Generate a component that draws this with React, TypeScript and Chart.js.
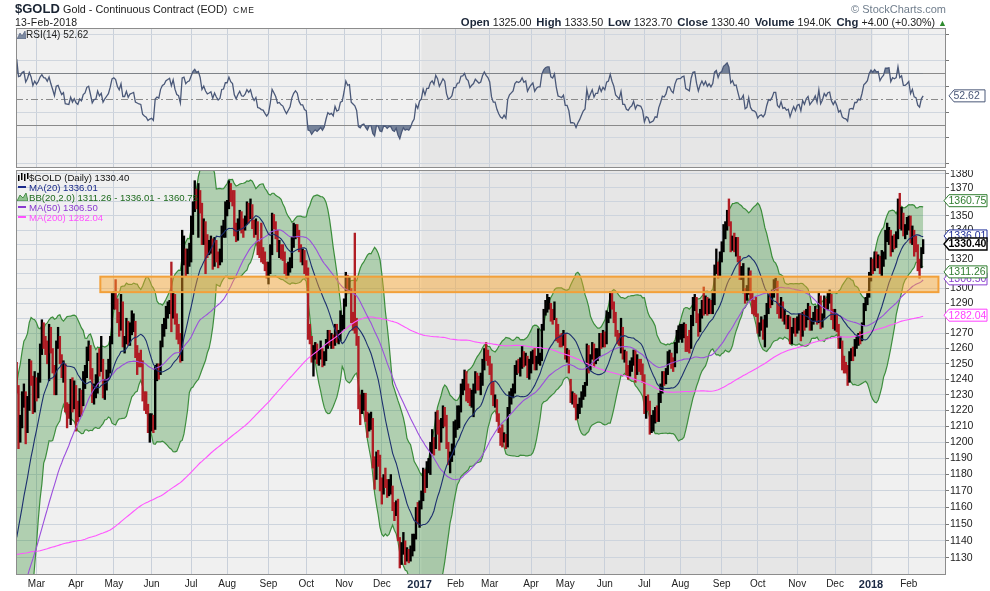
import React, { useEffect, useRef } from "react";
import { Chart, registerables } from "chart.js";
Chart.register(...registerables);

const FONT = '"Liberation Sans", Arial, Helvetica, sans-serif';

// ---- x axis: trading-day index of first session of each month, and labels
const monthStarts = [11, 33, 54, 75, 97, 117, 140, 161, 182, 203, 224, 244, 263, 286, 305, 327, 349, 369, 392, 412, 434, 455, 475, 496];
const monthLabels = ["Mar", "Apr", "May", "Jun", "Jul", "Aug", "Sep", "Oct", "Nov", "Dec", "2017", "Feb", "Mar", "Apr", "May", "Jun", "Jul", "Aug", "Sep", "Oct", "Nov", "Dec", "2018", "Feb"];
const yearShadeStart = 225;
const yearShadeEnd = 476;

// ---- price axis ticks
const priceTicks = [1130, 1140, 1150, 1160, 1170, 1180, 1190, 1200, 1210, 1220, 1230, 1240, 1250, 1260, 1270, 1280, 1290, 1300, 1310, 1320, 1330, 1340, 1350, 1360, 1370, 1380];
const rsiGridLevels = [0, 10, 20, 30, 40, 50, 60, 70, 80, 90, 100];
const rsiLabelLevels = [10, 30, 50, 70, 90];

// ---- sessions before the visible window (feed the moving averages / RSI)
const priorCloses = [
  1211, 1182,
  1178, 1186, 1193, 1192, 1184, 1189, 1183, 1192, 1217, 1219, 1225, 1227, 1207, 1209, 1205, 1204, 1187, 1187, 1187, 1190,
  1195, 1194, 1185, 1176, 1172, 1174, 1177, 1184, 1180, 1181, 1186, 1180, 1177, 1202, 1201, 1185, 1177, 1176, 1172, 1174, 1178, 1172,
  1169, 1165, 1173, 1155, 1162, 1161, 1162, 1157, 1156, 1150, 1145, 1131, 1107, 1102, 1093, 1091, 1085, 1096, 1095, 1096, 1088, 1094,
  1086, 1085, 1086, 1091, 1094, 1104, 1107, 1123, 1115, 1113, 1118, 1117, 1128, 1153, 1160, 1153, 1139, 1124, 1124, 1134, 1132,
  1139, 1134, 1124, 1121, 1121, 1121, 1108, 1103, 1108, 1102, 1118, 1117, 1137, 1133, 1124, 1131, 1153, 1145, 1132, 1127, 1115,
  1113, 1136, 1137, 1146, 1146, 1143, 1156, 1164, 1166, 1188, 1187, 1182, 1172, 1175, 1167, 1165, 1162, 1163, 1166, 1176, 1148, 1142,
  1135, 1115, 1104, 1105, 1088, 1092, 1090, 1087, 1083, 1081, 1088, 1070, 1068, 1077, 1076, 1067, 1074, 1071, 1056, 1065,
  1053, 1053, 1062, 1086, 1075, 1076, 1076, 1071, 1075, 1063, 1062, 1075, 1049, 1066, 1080, 1074, 1069, 1075, 1069, 1077, 1060, 1060,
  1075, 1078, 1091, 1108, 1097, 1096, 1086, 1086, 1073, 1090, 1089, 1106, 1097, 1097, 1107, 1119, 1114, 1115, 1117,
  1128, 1128, 1141, 1157, 1158, 1199, 1198, 1195, 1247,
];

// ---- visible daily sessions (12-Feb-2016 .. 13-Feb-2018)
const closes = [
  1239, 1208, 1211, 1226, 1230, 1210, 1223, 1249, 1240, 1221, 1238,
  1231, 1241, 1259, 1270, 1264, 1263, 1257, 1272, 1259, 1247, 1233, 1262, 1265, 1254, 1244, 1249, 1221, 1220, 1219, 1236, 1224, 1232,
  1222, 1218, 1230, 1226, 1240, 1244, 1258, 1261, 1246, 1227, 1234, 1235, 1254, 1244, 1250, 1231, 1238, 1244, 1250, 1266, 1291,
  1295, 1292, 1280, 1274, 1290, 1264, 1264, 1277, 1264, 1272, 1274, 1276, 1256, 1254, 1252, 1251, 1229, 1224, 1221, 1212, 1214,
  1215, 1210, 1243, 1247, 1245, 1263, 1272, 1275, 1284, 1287, 1290, 1280, 1294, 1280, 1271, 1269, 1256, 1322, 1325, 1312, 1319, 1322,
  1339, 1358, 1367, 1362, 1366, 1356, 1333, 1343, 1333, 1327, 1329, 1332, 1319, 1331, 1323, 1317, 1320, 1340, 1341, 1357,
  1357, 1373, 1366, 1363, 1344, 1336, 1345, 1352, 1344, 1343, 1347, 1356, 1352, 1357, 1346, 1340, 1345, 1327, 1326, 1323, 1322, 1316, 1311,
  1314, 1327, 1350, 1345, 1339, 1328, 1329, 1325, 1323, 1316, 1310, 1314, 1318, 1330, 1337, 1341, 1338, 1327, 1322, 1322, 1315,
  1313, 1269, 1267, 1254, 1257, 1259, 1254, 1256, 1258, 1251, 1254, 1262, 1269, 1266, 1267, 1263, 1273, 1266, 1267, 1276, 1277,
  1289, 1308, 1303, 1304, 1280, 1277, 1274, 1266, 1225, 1221, 1225, 1226, 1216, 1208, 1213, 1213, 1188, 1178, 1191, 1189, 1173,
  1170, 1177, 1176, 1170, 1172, 1172, 1162, 1159, 1162, 1142, 1127, 1134, 1139, 1132, 1133, 1130, 1133, 1138, 1141, 1158, 1152,
  1162, 1165, 1181, 1173, 1185, 1185, 1196, 1200, 1196, 1216, 1212, 1202, 1210, 1219, 1216, 1198, 1189, 1191, 1195, 1210,
  1210, 1219, 1220, 1235, 1236, 1242, 1236, 1234, 1226, 1230, 1233, 1241, 1239, 1237, 1239, 1250, 1258, 1255, 1253,
  1249, 1233, 1226, 1226, 1216, 1209, 1203, 1201, 1204, 1199, 1220, 1227, 1230, 1233, 1245, 1249, 1248, 1250, 1256, 1252, 1254, 1244, 1249,
  1253, 1256, 1248, 1252, 1254, 1254, 1274, 1284, 1289, 1291, 1291, 1283, 1282, 1289, 1277, 1267, 1266, 1265, 1268,
  1256, 1256, 1249, 1228, 1228, 1227, 1218, 1222, 1225, 1229, 1233, 1235, 1259, 1247, 1254, 1261, 1251, 1257, 1257, 1268, 1262, 1269,
  1266, 1280, 1282, 1297, 1289, 1283, 1271, 1268, 1265, 1277, 1256, 1256, 1247, 1245, 1249, 1251, 1257, 1245, 1250, 1249, 1248, 1242,
  1220, 1226, 1224, 1213, 1214, 1215, 1219, 1218, 1228, 1234, 1242, 1241, 1245, 1255, 1255, 1251, 1249, 1261, 1269, 1270,
  1270, 1273, 1274, 1264, 1263, 1262, 1279, 1290, 1291, 1281, 1273, 1282, 1289, 1285, 1291, 1286, 1290, 1287, 1292, 1314, 1318, 1311, 1322,
  1325, 1339, 1344, 1350, 1346, 1329, 1334, 1328, 1329, 1320, 1310, 1311, 1316, 1295, 1297, 1311, 1294, 1288, 1287, 1284,
  1272, 1275, 1276, 1272, 1275, 1285, 1293, 1292, 1296, 1303, 1303, 1286, 1283, 1290, 1280, 1281, 1277, 1278, 1266, 1272, 1277, 1271,
  1277, 1278, 1269, 1281, 1276, 1283, 1286, 1275, 1278, 1281, 1286, 1278, 1296, 1275, 1281, 1292, 1288, 1294, 1295, 1282, 1276,
  1281, 1274, 1262, 1264, 1251, 1248, 1247, 1242, 1256, 1257, 1256, 1264, 1264, 1268, 1267, 1275, 1288, 1291, 1295, 1309,
  1317, 1315, 1321, 1319, 1320, 1312, 1318, 1322, 1337, 1337, 1338, 1326, 1333, 1332, 1334, 1358, 1347, 1351, 1340, 1340, 1343,
  1347, 1333, 1340, 1330, 1329, 1318, 1315, 1326, 1330.4,
];

const highs = [
  1251, 1236, 1217, 1232, 1237, 1232, 1229, 1253, 1252, 1242, 1245,
  1241, 1244, 1263, 1279, 1277, 1268, 1265, 1276, 1274, 1260, 1249, 1265, 1274, 1268, 1256, 1252, 1250, 1225, 1224, 1240, 1241, 1239,
  1236, 1226, 1234, 1233, 1245, 1249, 1261, 1265, 1262, 1247, 1237, 1243, 1257, 1260, 1268, 1253, 1240, 1246, 1253, 1268, 1297,
  1298, 1306, 1293, 1284, 1296, 1291, 1268, 1280, 1278, 1277, 1285, 1283, 1278, 1262, 1257, 1259, 1252, 1232, 1232, 1224, 1218,
  1218, 1217, 1249, 1250, 1250, 1265, 1276, 1280, 1288, 1291, 1292, 1318, 1298, 1296, 1283, 1276, 1270, 1340, 1336, 1327, 1327, 1331,
  1350, 1360, 1375, 1369, 1373, 1368, 1359, 1348, 1346, 1337, 1333, 1336, 1334, 1335, 1333, 1325, 1327, 1343, 1347, 1360,
  1361, 1375, 1373, 1368, 1368, 1345, 1348, 1354, 1353, 1348, 1350, 1360, 1359, 1362, 1358, 1347, 1348, 1346, 1332, 1345, 1328, 1325, 1318,
  1318, 1330, 1352, 1351, 1346, 1340, 1333, 1330, 1330, 1325, 1317, 1318, 1321, 1335, 1345, 1344, 1344, 1340, 1330, 1327, 1326,
  1319, 1314, 1276, 1268, 1262, 1264, 1263, 1259, 1265, 1260, 1258, 1266, 1272, 1272, 1270, 1269, 1276, 1276, 1272, 1285, 1282,
  1293, 1311, 1309, 1308, 1300, 1284, 1338, 1280, 1268, 1230, 1233, 1231, 1231, 1219, 1218, 1219, 1215, 1191, 1194, 1195, 1192,
  1178, 1180, 1184, 1177, 1177, 1180, 1173, 1163, 1164, 1165, 1142, 1139, 1145, 1140, 1136, 1135, 1137, 1144, 1144, 1160, 1163,
  1164, 1170, 1184, 1183, 1188, 1190, 1200, 1208, 1203, 1219, 1220, 1214, 1215, 1223, 1222, 1217, 1200, 1194, 1199, 1213,
  1214, 1223, 1223, 1237, 1240, 1246, 1245, 1237, 1234, 1233, 1237, 1245, 1244, 1242, 1244, 1253, 1260, 1264, 1259,
  1255, 1250, 1238, 1230, 1227, 1218, 1209, 1211, 1206, 1205, 1222, 1232, 1234, 1237, 1249, 1252, 1253, 1254, 1262, 1258, 1257, 1255, 1253,
  1258, 1259, 1260, 1255, 1273, 1257, 1276, 1286, 1292, 1296, 1294, 1290, 1286, 1291, 1280, 1276, 1269, 1270, 1272,
  1270, 1260, 1259, 1240, 1232, 1231, 1230, 1224, 1228, 1232, 1236, 1238, 1263, 1262, 1256, 1264, 1263, 1260, 1260, 1270, 1270, 1272,
  1271, 1285, 1284, 1298, 1297, 1291, 1284, 1272, 1270, 1280, 1274, 1259, 1258, 1249, 1252, 1254, 1259, 1259, 1256, 1253, 1253, 1250,
  1243, 1229, 1230, 1226, 1217, 1220, 1222, 1223, 1231, 1237, 1245, 1245, 1247, 1258, 1259, 1257, 1254, 1264, 1272, 1275,
  1276, 1276, 1277, 1276, 1268, 1272, 1282, 1294, 1296, 1294, 1283, 1286, 1292, 1301, 1295, 1294, 1293, 1292, 1297, 1316, 1327, 1318, 1325,
  1332, 1344, 1346, 1354, 1362, 1346, 1336, 1338, 1335, 1335, 1322, 1315, 1317, 1300, 1302, 1314, 1312, 1297, 1292, 1294,
  1283, 1277, 1281, 1279, 1282, 1290, 1296, 1297, 1299, 1306, 1307, 1305, 1290, 1294, 1291, 1286, 1282, 1282, 1281, 1274, 1280, 1280,
  1281, 1283, 1283, 1284, 1285, 1286, 1290, 1288, 1280, 1284, 1288, 1286, 1297, 1295, 1283, 1295, 1293, 1297, 1299, 1296, 1286,
  1286, 1282, 1276, 1268, 1265, 1255, 1251, 1249, 1258, 1260, 1261, 1266, 1268, 1270, 1271, 1277, 1290, 1294, 1298, 1311,
  1321, 1320, 1325, 1325, 1323, 1322, 1326, 1325, 1340, 1345, 1342, 1340, 1336, 1337, 1339, 1362, 1366, 1356, 1352, 1344, 1349,
  1350, 1350, 1343, 1340, 1336, 1330, 1320, 1328, 1333.5,
];

const lows = [
  1231, 1196, 1200, 1209, 1222, 1199, 1206, 1220, 1236, 1218, 1219,
  1226, 1228, 1238, 1256, 1260, 1256, 1250, 1239, 1257, 1244, 1230, 1230, 1260, 1250, 1241, 1238, 1219, 1209, 1215, 1211, 1219, 1221,
  1207, 1213, 1216, 1217, 1223, 1234, 1241, 1252, 1240, 1225, 1224, 1228, 1231, 1242, 1245, 1228, 1227, 1233, 1240, 1244, 1263,
  1286, 1286, 1277, 1268, 1272, 1261, 1257, 1263, 1262, 1262, 1269, 1271, 1254, 1243, 1248, 1248, 1226, 1220, 1218, 1206, 1200,
  1207, 1206, 1208, 1239, 1240, 1243, 1261, 1268, 1273, 1280, 1283, 1271, 1280, 1276, 1266, 1263, 1251, 1252, 1316, 1308, 1310, 1315,
  1318, 1337, 1353, 1355, 1335, 1352, 1330, 1330, 1310, 1321, 1323, 1324, 1313, 1315, 1318, 1314, 1316, 1318, 1335, 1335,
  1350, 1355, 1360, 1357, 1336, 1332, 1333, 1340, 1338, 1335, 1340, 1344, 1345, 1348, 1341, 1335, 1337, 1323, 1321, 1318, 1317, 1312, 1307,
  1303, 1310, 1323, 1341, 1334, 1325, 1321, 1320, 1319, 1310, 1307, 1308, 1311, 1314, 1328, 1334, 1335, 1325, 1318, 1316, 1310,
  1307, 1266, 1263, 1251, 1242, 1253, 1250, 1249, 1253, 1248, 1249, 1252, 1260, 1262, 1260, 1260, 1262, 1264, 1263, 1265, 1272,
  1273, 1288, 1297, 1297, 1277, 1272, 1270, 1262, 1221, 1211, 1218, 1220, 1213, 1203, 1207, 1208, 1184, 1171, 1177, 1185, 1170,
  1162, 1168, 1172, 1166, 1167, 1168, 1158, 1152, 1155, 1140, 1124, 1126, 1132, 1126, 1128, 1127, 1128, 1131, 1134, 1141, 1150,
  1148, 1159, 1164, 1169, 1172, 1181, 1180, 1193, 1192, 1196, 1205, 1195, 1200, 1209, 1210, 1196, 1186, 1181, 1188, 1192,
  1203, 1208, 1209, 1219, 1230, 1233, 1226, 1225, 1223, 1222, 1216, 1231, 1233, 1233, 1230, 1236, 1246, 1252, 1249,
  1243, 1230, 1223, 1222, 1213, 1206, 1198, 1197, 1200, 1196, 1197, 1218, 1224, 1228, 1231, 1243, 1244, 1242, 1247, 1248, 1249, 1241, 1240,
  1244, 1250, 1246, 1246, 1250, 1249, 1252, 1272, 1282, 1284, 1286, 1278, 1276, 1279, 1265, 1264, 1261, 1261, 1262,
  1253, 1251, 1244, 1225, 1224, 1222, 1214, 1215, 1218, 1222, 1227, 1229, 1236, 1244, 1246, 1253, 1248, 1250, 1252, 1255, 1260, 1261,
  1261, 1263, 1277, 1280, 1286, 1277, 1268, 1263, 1262, 1257, 1253, 1251, 1243, 1240, 1242, 1245, 1249, 1238, 1243, 1245, 1243, 1238,
  1218, 1215, 1220, 1205, 1206, 1207, 1212, 1213, 1213, 1225, 1231, 1236, 1237, 1243, 1250, 1247, 1245, 1248, 1257, 1264,
  1266, 1264, 1267, 1258, 1258, 1257, 1260, 1275, 1285, 1277, 1268, 1271, 1280, 1282, 1283, 1282, 1283, 1283, 1283, 1289, 1310, 1307, 1308,
  1318, 1325, 1334, 1340, 1343, 1325, 1326, 1325, 1322, 1318, 1306, 1306, 1297, 1290, 1292, 1296, 1292, 1283, 1282, 1281,
  1270, 1268, 1272, 1266, 1261, 1274, 1283, 1287, 1289, 1294, 1299, 1283, 1280, 1280, 1278, 1276, 1273, 1273, 1263, 1263, 1270, 1268,
  1270, 1272, 1265, 1268, 1272, 1274, 1279, 1272, 1272, 1276, 1278, 1276, 1277, 1273, 1274, 1280, 1286, 1286, 1290, 1279, 1273,
  1272, 1271, 1260, 1260, 1246, 1244, 1244, 1236, 1238, 1252, 1252, 1255, 1260, 1262, 1263, 1265, 1275, 1285, 1289, 1294,
  1305, 1310, 1312, 1314, 1314, 1310, 1308, 1315, 1320, 1332, 1330, 1322, 1325, 1327, 1328, 1334, 1341, 1340, 1336, 1334, 1337,
  1340, 1331, 1330, 1322, 1325, 1312, 1307, 1314, 1323.7,
];

// ---- support/resistance zone (price range, session-index span)
const zoneLow = 1297.5;
const zoneHigh = 1308;
const zoneFrom = 46.5;
const zoneTo = 512.5;

// ---- right-edge value tags
const tagValues = [1360.75, 1282.04, 1306.5, 1311.26, 1336.01, 1330.4];
const tagTexts = ["1360.75", "1282.04", "1306.50", "1311.26", "1336.01", "1330.40"];
const tagColors = ["#2f7d2f", "#ff40ff", "#8a40d0", "#2f7d2f", "#1f2f9a", "#000000"];
const tagBold = [false, false, false, false, false, true];
const rsiTagValue = 52.62;
const rsiTagText = "52.62";

// ---- header / legend texts
const quoteLabels = ["Open", "High", "Low", "Close", "Volume", "Chg"];
const quoteValues = ["1325.00", "1333.50", "1323.70", "1330.40", "194.0K", "+4.00 (+0.30%)"];
const legendTexts = ["$GOLD (Daily) 1330.40", "MA(20) 1336.01", "BB(20,2.0) 1311.26 - 1336.01 - 1360.75", "MA(50) 1306.50", "MA(200) 1282.04"];
const legendColors = ["#111111", "#1a2a8a", "#1e6a1e", "#8a3ad0", "#ff50ff"];

const X_MIN = -0.39;
const X_MAX = 516.7;

function computeIndicators() {
  const all = [...priorCloses, ...closes];
  const W = priorCloses.length;
  const ma = (n: number) =>
    closes.map((_, i) => {
      let s = 0;
      for (let k = W + i - n + 1; k <= W + i; k++) s += all[k];
      return s / n;
    });
  const ma20 = ma(20);
  const ma50 = ma(50);
  const ma200 = ma(200);
  const bbU: number[] = [];
  const bbL: number[] = [];
  closes.forEach((_, i) => {
    const m = ma20[i];
    let v = 0;
    for (let k = W + i - 19; k <= W + i; k++) v += (all[k] - m) ** 2;
    const sd = Math.sqrt(v / 20);
    bbU.push(m + 2 * sd);
    bbL.push(m - 2 * sd);
  });
  const rsiAll: number[] = new Array(all.length).fill(50);
  let ag = 0;
  let al = 0;
  for (let k = 1; k <= 14; k++) {
    const d = all[k] - all[k - 1];
    if (d > 0) ag += d;
    else al -= d;
  }
  ag /= 14;
  al /= 14;
  rsiAll[14] = 100 - 100 / (1 + ag / al);
  for (let k = 15; k < all.length; k++) {
    const d = all[k] - all[k - 1];
    ag = (ag * 13 + Math.max(d, 0)) / 14;
    al = (al * 13 + Math.max(-d, 0)) / 14;
    rsiAll[k] = al === 0 ? 100 : 100 - 100 / (1 + ag / al);
  }
  const rsi = closes.map((_, i) => rsiAll[W + i]);
  const prevOf = (i: number) => all[W + i - 1];
  return { ma20, ma50, ma200, bbU, bbL, rsi, prevOf };
}

const bgPlugin = {
  id: "panelBg",
  beforeDraw(chart: any) {
    const { ctx, chartArea: a, scales } = chart;
    const x = scales.x;
    ctx.save();
    ctx.fillStyle = "#f0f0f0";
    ctx.fillRect(a.left, a.top, a.right - a.left, a.bottom - a.top);
    const x1 = x.getPixelForValue(yearShadeStart);
    const x2 = x.getPixelForValue(yearShadeEnd);
    ctx.fillStyle = "#e6e6e6";
    ctx.fillRect(x1, a.top, x2 - x1, a.bottom - a.top);
    ctx.restore();
  },
  afterDraw(chart: any) {
    const { ctx, chartArea: a } = chart;
    ctx.save();
    ctx.strokeStyle = "#8c8c8c";
    ctx.lineWidth = 1;
    ctx.strokeRect(Math.round(a.left) + 0.5, Math.round(a.top) + 0.5, Math.round(a.right - a.left) - 1, Math.round(a.bottom - a.top) - 1);
    ctx.restore();
  },
};

function drawTag(ctx: any, tip: number, y: number, text: string, color: string, bold: boolean, w: number) {
  ctx.save();
  ctx.beginPath();
  ctx.moveTo(tip, y);
  ctx.lineTo(tip + 5, y - 6);
  ctx.lineTo(tip + w, y - 6);
  ctx.lineTo(tip + w, y + 6);
  ctx.lineTo(tip + 5, y + 6);
  ctx.closePath();
  ctx.fillStyle = "#ffffff";
  ctx.fill();
  ctx.strokeStyle = color;
  ctx.lineWidth = bold ? 1.4 : 1;
  ctx.stroke();
  ctx.fillStyle = color;
  ctx.font = `${bold ? "bold " : ""}10.5px ${FONT}`;
  ctx.textBaseline = "middle";
  ctx.textAlign = "left";
  ctx.fillText(text, tip + 4.5, y + 0.5);
  ctx.restore();
}

const priceOverlay = {
  id: "priceOverlay",
  afterDatasetsDraw(chart: any) {
    const { ctx, scales } = chart;
    const x1 = scales.x.getPixelForValue(zoneFrom);
    const x2 = scales.x.getPixelForValue(zoneTo);
    const y1 = scales.y.getPixelForValue(zoneHigh);
    const y2 = scales.y.getPixelForValue(zoneLow);
    ctx.save();
    ctx.fillStyle = "rgba(250,165,40,0.45)";
    ctx.fillRect(x1, y1, x2 - x1, y2 - y1);
    ctx.strokeStyle = "#f2a03a";
    ctx.lineWidth = 2;
    ctx.strokeRect(x1, y1, x2 - x1, y2 - y1);
    ctx.restore();
  },
  afterDraw(chart: any) {
    const { ctx, scales, chartArea } = chart;
    tagValues.forEach((v, i) => {
      drawTag(ctx, chartArea.right - 2, scales.y.getPixelForValue(v), tagTexts[i], tagColors[i], tagBold[i], 43);
    });
  },
};

const rsiOverlay = {
  id: "rsiOverlay",
  beforeDatasetsDraw(chart: any) {
    const { ctx, scales, chartArea: a } = chart;
    ctx.save();
    ctx.strokeStyle = "#8a8a8a";
    ctx.lineWidth = 1.2;
    [70, 30].forEach((v) => {
      const y = Math.round(scales.y.getPixelForValue(v)) + 0.5;
      ctx.beginPath();
      ctx.moveTo(a.left, y);
      ctx.lineTo(a.right, y);
      ctx.stroke();
    });
    ctx.lineWidth = 1;
    ctx.setLineDash([7, 3, 2, 3]);
    const y5 = Math.round(scales.y.getPixelForValue(50)) + 0.5;
    ctx.beginPath();
    ctx.moveTo(a.left, y5);
    ctx.lineTo(a.right, y5);
    ctx.stroke();
    ctx.restore();
  },
  afterDraw(chart: any) {
    const { ctx, scales, chartArea } = chart;
    drawTag(ctx, chartArea.right + 3, scales.y.getPixelForValue(rsiTagValue), rsiTagText, "#4a5878", false, 36);
  },
};

const zeroPad = (scale: any) => {
  scale.paddingTop = 0;
  scale.paddingBottom = 0;
  scale.paddingLeft = 0;
  scale.paddingRight = 0;
};

const xScaleBase = (showLabels: boolean) => ({
  type: "linear" as const,
  min: X_MIN,
  max: X_MAX,
  offset: false,
  afterBuildTicks: (scale: any) => {
    scale.ticks = monthStarts.map((v) => ({ value: v }));
  },
  afterFit: (scale: any) => {
    scale.height = showLabels ? 16 : 0;
    zeroPad(scale);
  },
  border: { display: false },
  grid: { color: "#c9d0da", lineWidth: 1, drawTicks: false, offset: false },
  ticks: {
    display: showLabels,
    autoSkip: false,
    maxRotation: 0,
    padding: 3,
    color: (ctx: any) => (/^\d{4}$/.test(monthLabels[monthStarts.indexOf(ctx.tick?.value)] || "") ? "#1c2a44" : "#222222"),
    font: (ctx: any) => {
      const lab = monthLabels[monthStarts.indexOf(ctx.tick?.value)] || "";
      return /^\d{4}$/.test(lab) ? { family: FONT, size: 11, weight: "bold" } : { family: FONT, size: 10 };
    },
    callback: (v: any) => monthLabels[monthStarts.indexOf(v)] ?? "",
  },
});

export default function App() {
  const rsiRef = useRef<HTMLCanvasElement>(null);
  const priceRef = useRef<HTMLCanvasElement>(null);

  useEffect(() => {
    const ind = computeIndicators();
    const idx = closes.map((_, i) => i);
    const pts = (arr: number[]) => idx.map((i) => ({ x: i, y: arr[i] }));

    const rsiChart = new Chart(rsiRef.current as HTMLCanvasElement, {
      type: "line",
      data: {
        datasets: [
          {
            data: pts(ind.rsi),
            borderColor: "#4a5878",
            borderWidth: 1.3,
            pointRadius: 0,
            fill: { target: { value: 70 }, above: "rgba(88,104,132,0.8)", below: "rgba(0,0,0,0)" },
          } as any,
          {
            data: pts(ind.rsi),
            borderColor: "rgba(0,0,0,0)",
            borderWidth: 0,
            pointRadius: 0,
            fill: { target: { value: 30 }, above: "rgba(0,0,0,0)", below: "rgba(88,104,132,0.8)" },
          } as any,
        ],
      },
      options: {
        animation: false,
        responsive: false,
        events: [],
        layout: { padding: { left: 16, right: 0, top: 28, bottom: 2 }, autoPadding: false } as any,
        plugins: { legend: { display: false }, tooltip: { enabled: false } },
        scales: {
          x: xScaleBase(false) as any,
          y: {
            type: "linear",
            position: "right",
            min: -3.4,
            max: 105.3,
            afterBuildTicks: (scale: any) => {
              scale.ticks = rsiGridLevels.map((v) => ({ value: v }));
            },
            afterFit: (scale: any) => {
              scale.width = 44;
              zeroPad(scale);
            },
            border: { display: false },
            grid: {
              color: (ctx: any) => ([30, 50, 70].includes(ctx.tick?.value) ? "rgba(0,0,0,0)" : "#d0d6de"),
              tickLength: 3,
              tickColor: "#777777",
            },
            ticks: {
              padding: 1,
              color: "#222222",
              font: { family: FONT, size: 10.5 },
              callback: (v: any) => (rsiLabelLevels.includes(v) ? String(v) : ""),
            },
          } as any,
        },
      },
      plugins: [bgPlugin, rsiOverlay],
    });

    const barColors = idx.map((i) => (closes[i] < ind.prevOf(i) ? "#b01c24" : "#000000"));

    const priceChart = new Chart(priceRef.current as HTMLCanvasElement, {
      type: "line",
      data: {
        datasets: [
          { type: "line", data: pts(ind.bbU), borderColor: "#3e8e3e", borderWidth: 1.2, pointRadius: 0, fill: false, order: 10 } as any,
          {
            type: "line",
            data: pts(ind.bbL),
            borderColor: "#3e8e3e",
            borderWidth: 1.2,
            pointRadius: 0,
            fill: "-1",
            backgroundColor: "rgba(46,139,46,0.33)",
            order: 9,
          } as any,
          {
            type: "bar",
            data: idx.map((i) => ({ x: i, y: [lows[i], highs[i]] })),
            backgroundColor: barColors,
            borderWidth: 0,
            barThickness: 1.7,
            order: 5,
          } as any,
          { type: "line", data: pts(ind.ma200), borderColor: "#ff55ff", borderWidth: 1.1, pointRadius: 0, fill: false, order: 4 } as any,
          { type: "line", data: pts(ind.ma50), borderColor: "#9b4fdc", borderWidth: 1.1, pointRadius: 0, fill: false, order: 3 } as any,
          { type: "line", data: pts(ind.ma20), borderColor: "#1c2f6e", borderWidth: 1.1, pointRadius: 0, fill: false, order: 2 } as any,
        ],
      },
      options: {
        animation: false,
        responsive: false,
        events: [],
        layout: { padding: { left: 16, right: 0, top: 0, bottom: 0 }, autoPadding: false } as any,
        plugins: { legend: { display: false }, tooltip: { enabled: false } },
        scales: {
          x: xScaleBase(true) as any,
          y: {
            type: "logarithmic",
            position: "right",
            min: 1119.9,
            max: 1382.66,
            afterBuildTicks: (scale: any) => {
              scale.ticks = priceTicks.map((v) => ({ value: v }));
            },
            afterFit: (scale: any) => {
              scale.width = 44;
              zeroPad(scale);
            },
            border: { display: false },
            grid: { color: "#cdd4dd", tickLength: 3, tickColor: "#777777" },
            ticks: {
              padding: 1,
              color: "#222222",
              font: { family: FONT, size: 10.5 },
              callback: (v: any) => String(v),
            },
          } as any,
        },
      },
      plugins: [bgPlugin, priceOverlay],
    });

    return () => {
      rsiChart.destroy();
      priceChart.destroy();
    };
  }, []);

  const abs = (o: any) => ({ position: "absolute" as const, whiteSpace: "nowrap" as const, ...o });

  return (
    <div style={{ position: "absolute", left: 0, top: 0, width: 990, height: 591, background: "#ffffff", fontFamily: FONT, overflow: "hidden" }}>
      <canvas ref={rsiRef} width={990} height={170} style={{ position: "absolute", left: 0, top: 0 }} />
      <canvas ref={priceRef} width={990} height={421} style={{ position: "absolute", left: 0, top: 170 }} />

      {/* header */}
      <div style={abs({ left: 15, top: 1, fontSize: 13, fontWeight: "bold", color: "#1a2433", lineHeight: "16px" })}>$GOLD</div>
      <div style={abs({ left: 63, top: 2, fontSize: 10.8, color: "#222", lineHeight: "15px" })}>Gold - Continuous Contract (EOD)</div>
      <div style={abs({ left: 233, top: 4, fontSize: 8.5, color: "#222", letterSpacing: 1, lineHeight: "13px" })}>CME</div>
      <div style={abs({ left: 15, top: 16, fontSize: 10.5, color: "#222", letterSpacing: 0.2, lineHeight: "13px" })}>13-Feb-2018</div>
      <div style={abs({ right: 44, top: 3, fontSize: 11, color: "#6f7d8c", lineHeight: "13px" })}>© StockCharts.com</div>
      <div style={abs({ right: 43, top: 16, fontSize: 10.7, color: "#222", lineHeight: "13px" })}>
        {quoteLabels.map((l, i) => (
          <span key={l}>
            <b style={{ color: "#1b2638", fontSize: 11.3 }}>{l}</b> {quoteValues[i]}{" "}
            {i < quoteLabels.length - 1 ? <span style={{ display: "inline-block", width: 2 }} /> : null}
          </span>
        ))}
        <span style={{ color: "#2e8b2e", fontSize: 9 }}>▲</span>
      </div>

      {/* RSI legend */}
      <svg style={{ position: "absolute", left: 17, top: 31 }} width={9} height={8}>
        <polygon points="0,8 3,2 5,5 8,0 9,8" fill="#7d8aa0" stroke="#4a5878" strokeWidth={0.6} />
      </svg>
      <div style={abs({ left: 26, top: 29, fontSize: 10, color: "#222", lineHeight: "12px" })}>RSI(14) 52.62</div>

      {/* price legend */}
      <svg style={{ position: "absolute", left: 18, top: 173 }} width={11} height={9}>
        <rect x={0} y={2} width={1.5} height={6} fill="#000" />
        <rect x={3} y={0} width={1.5} height={7} fill="#000" />
        <rect x={6} y={1} width={1.5} height={7} fill="#000" />
        <rect x={9} y={0} width={1.5} height={6} fill="#000" />
      </svg>
      <div style={{ position: "absolute", left: 18, top: 186, width: 8, height: 2, background: "#1a2a8a" }} />
      <svg style={{ position: "absolute", left: 17, top: 193 }} width={11} height={8}>
        <polygon points="0,8 3,2 6,5 9,0 11,8" fill="#8fc08f" stroke="#2f7d2f" strokeWidth={0.8} />
      </svg>
      <div style={{ position: "absolute", left: 18, top: 206, width: 8, height: 2, background: "#8a3ad0" }} />
      <div style={{ position: "absolute", left: 18, top: 216, width: 8, height: 2, background: "#ff50ff" }} />
      {legendTexts.map((t, i) => (
        <div key={t} style={abs({ left: 29, top: 171.5 + i * 10, fontSize: 9.6, color: legendColors[i], lineHeight: "11px" })}>
          {t}
        </div>
      ))}
    </div>
  );
}
